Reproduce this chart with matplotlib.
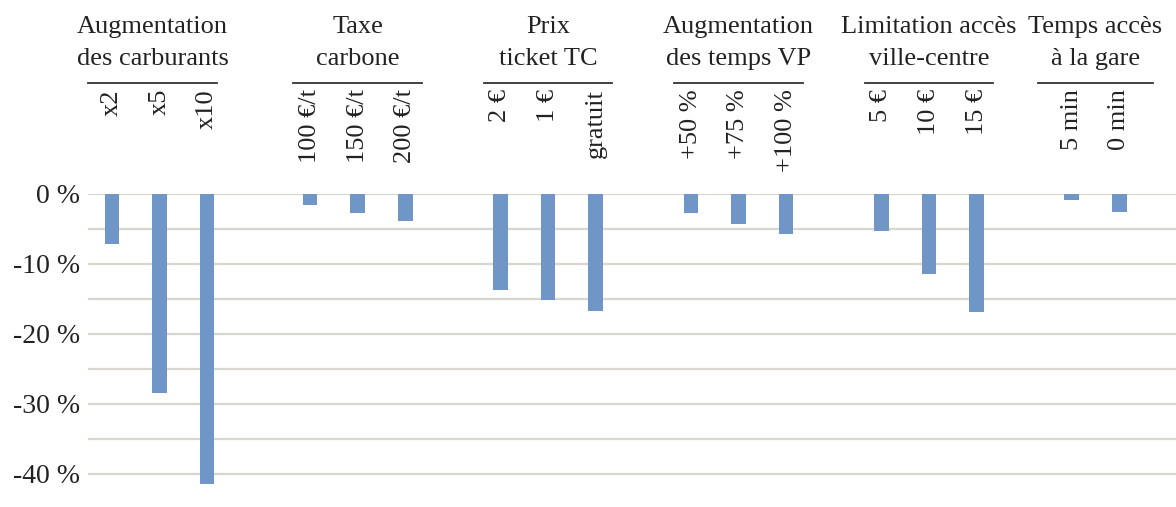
import matplotlib
matplotlib.use("Agg")
import matplotlib.pyplot as plt
from matplotlib.transforms import blended_transform_factory
from matplotlib.lines import Line2D

# data (variation in %)
group_titles = [
    ("Augmentation", "des carburants"),
    ("Taxe", "carbone"),
    ("Prix", "ticket TC"),
    ("Augmentation", "des temps VP"),
    ("Limitation accès", "ville-centre"),
    ("Temps accès", "à la gare"),
]
carburants_labels = ["x2", "x5", "x10"]
carburants = [-7.2, -28.4, -41.5]
taxe_labels = ["100 €/t", "150 €/t", "200 €/t"]
taxe = [-1.6, -2.7, -3.9]
ticket_labels = ["2 €", "1 €", "gratuit"]
ticket = [-13.7, -15.2, -16.8]
temps_vp_labels = ["+50 %", "+75 %", "+100 %"]
temps_vp = [-2.8, -4.3, -5.8]
limitation_labels = ["5 €", "10 €", "15 €"]
limitation = [-5.3, -11.4, -16.9]
gare_labels = ["5 min", "0 min"]
gare = [-0.9, -2.6]

groups = [
    (carburants_labels, carburants),
    (taxe_labels, taxe),
    (ticket_labels, ticket),
    (temps_vp_labels, temps_vp),
    (limitation_labels, limitation),
    (gare_labels, gare),
]
yticks = [0, -10, -20, -30, -40]

# layout
group_gaps = [2.16, 2, 2, 2, 2]
title_shift = [-0.15, 0, 0, 0, 0, 0]
bar_color = "#7096C8"
grid_color = "#D9D5CF"
text_color = "#222222"
font = "Liberation Serif"
fs = 19

W, H = 1176, 507
fig = plt.figure(figsize=(W / 100, H / 100), dpi=100)
top_px, bottom_px = 193.7, 508.7
ax = fig.add_axes([88 / W, 1 - bottom_px / H, 1 - 88 / W, (bottom_px - top_px) / H])

trans = blended_transform_factory(ax.transData, fig.transFigure)

x = 0.0
for gi, (labels, vals) in enumerate(groups):
    if gi > 0:
        x += group_gaps[gi - 1]
    xs = [x + i for i in range(len(vals))]
    ax.bar(xs, vals, width=0.305, color=bar_color, zorder=3)
    for xi, lab in zip(xs, labels):
        ax.text(xi, 1 - 89 / H, lab, rotation=90, ha="center", va="top",
                transform=trans, fontsize=fs, family=font, color=text_color)
    center = (xs[0] + xs[-1]) / 2 + title_shift[gi]
    half = 1.35 if len(vals) == 3 else 1.2
    fig.add_artist(Line2D([center - half, center + half], [1 - 83 / H, 1 - 83 / H],
                          transform=trans, color="#333333", lw=1.3, clip_on=False))
    for li, line in enumerate(group_titles[gi]):
        ax.text(center, 1 - (33 + 32 * li) / H, line, ha="center", va="baseline",
                transform=trans, fontsize=fs, family=font, color=text_color)
    x = xs[-1]

ax.set_xlim(-0.504, 22.35)
ax.set_ylim(-45, 0)
ax.set_yticks(range(0, -50, -5), minor=False)
ax.set_yticklabels([f"{v} %" if v in yticks else "" for v in range(0, -50, -5)],
                   fontsize=20, family=font, color=text_color)
ax.tick_params(axis="y", length=0, pad=6)
ax.set_xticks([])
ax.grid(axis="y", color=grid_color, lw=1.6, zorder=0)
for s in ax.spines.values():
    s.set_visible(False)

fig.savefig("out.png", dpi=100)
